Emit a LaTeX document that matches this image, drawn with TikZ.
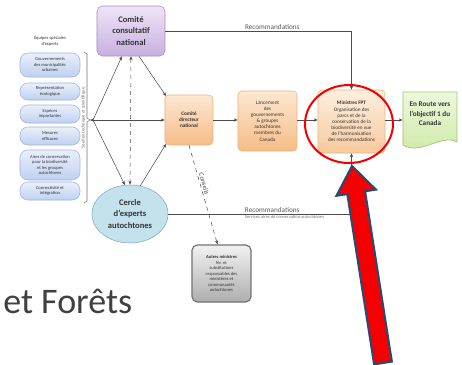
\documentclass[tikz,border=0pt]{standalone}
\usepackage{fontspec}
\setmainfont{Carlito}
\usetikzlibrary{arrows.meta,shapes.geometric,calc}
\newcommand\fxs{\fontsize{3.4}{4.1}\selectfont}
\newcommand\fsm{\fontsize{3.9}{4.6}\selectfont}
\newcommand\fmd{\fontsize{5.4}{7.0}\selectfont}
\newcommand\flg{\fontsize{6.4}{8.6}\selectfont}
\definecolor{pillt}{HTML}{EAF0FB}
\definecolor{pillbot}{HTML}{BFD0F0}
\definecolor{pillb}{HTML}{9DB4E0}
\definecolor{purt}{HTML}{EFE4F7}
\definecolor{purbot}{HTML}{C8B0E0}
\definecolor{purb}{HTML}{A48CC4}
\definecolor{orat}{HTML}{FDE8D2}
\definecolor{orabot}{HTML}{F6BC86}
\definecolor{orab}{HTML}{E8B482}
\definecolor{tealf}{HTML}{C3E2EC}
\definecolor{tealb}{HTML}{7FA8B8}
\definecolor{grnt}{HTML}{EEF9DC}
\definecolor{grnbot}{HTML}{CDE8A4}
\definecolor{grnb}{HTML}{9CC474}
\definecolor{arrred}{HTML}{F40000}
\definecolor{arrblue}{HTML}{1F4E79}
\definecolor{txt}{HTML}{333333}
\begin{document}
\begin{tikzpicture}[x=0.75pt,y=-0.75pt,
  line/.style={draw=black!70,line width=0.4pt},
  arr/.style={line,-{Stealth[length=3pt,width=2.4pt]}},
  pill/.style={draw=pillb,top color=pillt,bottom color=pillbot,rounded corners=6pt,
    minimum width=45pt,inner sep=0.5pt,align=center,font=\fxs,text=txt},
  orbox/.style={draw=orab,top color=orat,bottom color=orabot,rounded corners=3pt,
    inner sep=0.5pt,align=center,text=txt},
  lbl/.style={font=\fmd,text=black!65,inner sep=1pt},
]
\useasboundingbox (0,0) rectangle (462,365);
\fill[white] (0,0) rectangle (462,365);

% left column
\node[font=\fxs,text=txt,align=center] (ttl) at (50,41) {Équipes spéciales\\d'experts};
\node[pill,minimum height=18pt] (p1) at (50,65) {Gouvernements\\des municipalités\\urbaines};
\node[pill,minimum height=12.75pt] (p2) at (50,91.5) {Représentation\\écologique};
\node[pill,minimum height=13.5pt] (p3) at (50,114) {Espèces\\importantes};
\node[pill,minimum height=13.5pt] (p4) at (50,136) {Mesures\\efficaces};
\node[pill,minimum height=22.5pt] (p5) at (50,165) {Aires de conservation\\pour la biodiversité\\et les groupes\\autochtones};
\node[pill,minimum height=13.5pt] (p6) at (50,191) {Connectivité et\\intégration};

% bracket
\coordinate (brtip) at (90,120);
\draw[black!55,line width=0.4pt] (84,52) -- (87,54) -- (87,118) -- (brtip) -- (87,122) -- (87,201) -- (84,203);
\node[font=\fxs,text=black!60,rotate=90] (brl) at (83.5,118) {Soutien technique et scientifique};
\coordinate (J) at (93,120);

% main boxes
\node[draw=purb,top color=purt,bottom color=purbot,rounded corners=4pt,
  minimum width=51pt,minimum height=37.5pt,align=center,font=\flg\bfseries,text=txt] (cc) at (131,31)
  {Comité\\consultatif\\national};
\node[ellipse,draw=tealb,fill=tealf,minimum width=57pt,minimum height=43.5pt,inner sep=0pt,
  align=center,font=\flg\bfseries,text=txt] (cea) at (130,214) {Cercle\\d'experts\\autochtones};
\node[orbox,minimum width=36pt,minimum height=37.5pt,font=\fsm\bfseries] (cd) at (189,120)
  {Comité\\directeur\\national};
\node[orbox,minimum width=44.25pt,minimum height=45pt,font=\fsm] (lg) at (267.5,121)
  {Lancement\\des\\gouvernements\\\& groupes\\autochtones\\membres du\\Canada};
\node[orbox,top color=orat!70!white,bottom color=orabot!80!white,minimum width=50.25pt,minimum height=47.25pt,font=\fsm] (min) at (351.5,121.5)
  {{\bfseries Ministres FPT}\\Organisation des\\parcs et de la\\conservation de la\\biodiversité en vue\\de l'harmonisation\\des recommandations};

% green document shape
\path[draw=grnb,top color=grnt,bottom color=grnbot,line width=0.5pt]
  (403,92) -- (457,92) -- (457,142) .. controls (443,133) and (420,156) .. (403,145) -- cycle;
\node[minimum width=40.5pt,minimum height=42pt,inner sep=0pt] (grn) at (430,120) {};
\node[font=\fmd\bfseries,text=txt,align=center,inner sep=0pt] (grnt) at (430,114)
  {En Route vers\\l'objectif 1 du\\Canada};

% grey box
\node[draw=black!55,line width=0.9pt,top color=black!5,bottom color=black!32,rounded corners=4pt,
  minimum width=44.25pt,minimum height=42.75pt,inner sep=0.5pt,align=center,font=\fxs,text=txt] (gry) at (221.5,273.5)
  {{\bfseries Autres ministres}\\fér. et\\substitutions\\responsables des\\ministères et\\communautés\\autochtones};

% connectors
\draw[arr] (J) -- (brtip);
\draw[arr] (J) -- ([xshift=-6.75pt]cc.south);
\draw[arr] (J) -- (cea.100);
\draw[arr] (J) -- (cd.west);
\draw[line,dashed,{Stealth[length=3pt,width=2.4pt]}-{Stealth[length=3pt,width=2.4pt]}] (cc.south) -- (cea.north);
\draw[arr] ([xshift=6pt]cc.south) -- ([xshift=1pt,yshift=-1pt]cd.north west);
\draw[arr] (cea.70) -- ([xshift=1pt,yshift=1pt]cd.south west);
\draw[arr] (cd.east) -- (cd.east -| lg.west);
\draw[arr] (lg.east |- cd.east) -- (cd.east -| min.west);
\draw[arr] (min.east |- cd.east) -- (cd.east -| grn.west);
\draw[arr] (cc.east) -| (min.north)
  node[lbl,pos=0.21,anchor=south west] (r1) {Recommandations};
\draw[arr] (cea.east) -| (min.south)
  node[lbl,pos=0.205,anchor=south west] (r2) {Recommandations}
  node[font=\fxs,text=black!55,pos=0.205,anchor=north west,inner sep=1pt] (r2s) {Services aires de conservation autochtones};
\draw[arr,dashed] (cd.south) -- ([xshift=-3pt]gry.north)
  node[font=\fontsize{5}{6}\selectfont,text=black!70,sloped,above,pos=0.4,inner sep=1pt] (cons) {Conseils};

% red circle
\draw[arrred,line width=1.5pt] (349,124) ellipse [x radius=33pt, y radius=29.25pt];

% big red arrow
\draw[arrblue,fill=arrred,line width=1.5pt,line join=miter]
  (352,166) -- (376,189.6) -- (365.1,191.3) -- (391.9,361.6) -- (374.1,364.4)
  -- (347.3,194.1) -- (336.4,195.8) -- cycle;

% big text
\node[anchor=base west,inner sep=0pt,font=\fontsize{27}{30}\selectfont,text=black!75] (etf) at (3,313) {et Forêts};
\end{tikzpicture}
\end{document}
